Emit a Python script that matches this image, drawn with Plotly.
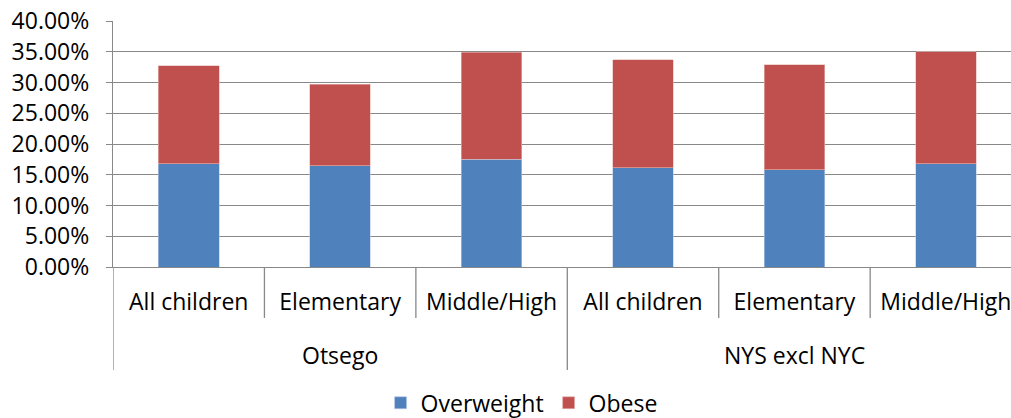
import plotly.graph_objects as go

groups = ["Otsego", "NYS excl NYC"]
subcats = ["All children", "Elementary", "Middle/High"]
overweight = [0.168, 0.165, 0.175, 0.161, 0.158, 0.168]
obese = [0.159, 0.132, 0.174, 0.176, 0.171, 0.182]
ytick_vals = [0, 0.05, 0.10, 0.15, 0.20, 0.25, 0.30, 0.35, 0.40]

labels = [s for g in groups for s in subcats]
xpos = list(range(len(labels)))

FONT = "Open Sans"
FS = 23
GRID = "#888888"

fig = go.Figure()
fig.add_trace(go.Bar(x=xpos, y=overweight, name="Overweight", marker_color="#4F81BD",
                     marker_line=dict(color="#b8cce4", width=0.6), width=0.4))
fig.add_trace(go.Bar(x=xpos, y=obese, name="Obese", marker_color="#C0504D",
                     marker_line=dict(color="#e6b9b8", width=0.6), width=0.4))

n_sub = len(subcats)
# divider lines below the axis
for i in range(len(labels)):
    edge = i - 0.5
    long_line = (i % n_sub == 0)
    fig.add_shape(type="line", xref="x", yref="paper", x0=edge, x1=edge,
                  y0=0, y1=-0.419 if long_line else -0.207,
                  line=dict(color=GRID, width=1.3))
# group labels
for gi, g in enumerate(groups):
    fig.add_annotation(x=gi * n_sub + (n_sub - 1) / 2, xref="x", y=-0.358, yref="paper",
                       text=g, showarrow=False, yanchor="middle",
                       font=dict(family=FONT, size=FS, color="black"))

fig.update_layout(
    barmode="stack",
    width=1011, height=418,
    margin=dict(l=113, r=0, t=21, b=151, autoexpand=False),
    paper_bgcolor="white", plot_bgcolor="white",
    font=dict(family=FONT, size=FS, color="black"),
    bargap=0.6,
    showlegend=True,
    legend=dict(orientation="h", x=0.455, xanchor="center", y=-0.552, yanchor="middle",
                font=dict(family=FONT, size=FS, color="black"),
                itemwidth=30, traceorder="normal", tracegroupgap=0),
    xaxis=dict(range=[-0.5, 5.43], tickmode="array", tickvals=xpos, ticktext=labels,
               showgrid=False, showline=True, linecolor=GRID, linewidth=1.3,
               ticks="", ticklabelstandoff=14, zeroline=False, automargin=False,
               ticklabeloverflow="allow",
               tickfont=dict(family=FONT, size=FS, color="black")),
    yaxis=dict(range=[0, 0.40], tickmode="array", tickvals=ytick_vals, tickformat=".2%",
               showgrid=True, gridcolor=GRID, gridwidth=1.3,
               showline=True, linecolor=GRID, linewidth=1.3,
               ticks="outside", ticklen=6, tickcolor=GRID, tickwidth=1.3,
               ticklabelstandoff=12, zeroline=False, automargin=False,
               ticklabeloverflow="allow",
               tickfont=dict(family=FONT, size=FS, color="black")),
)

# remove the default 8px page margin so the figure fills the window exactly
fig.write_html("out.html", config={"displayModeBar": False},
               post_script="document.body.style.margin='0';document.body.style.overflow='hidden';")
